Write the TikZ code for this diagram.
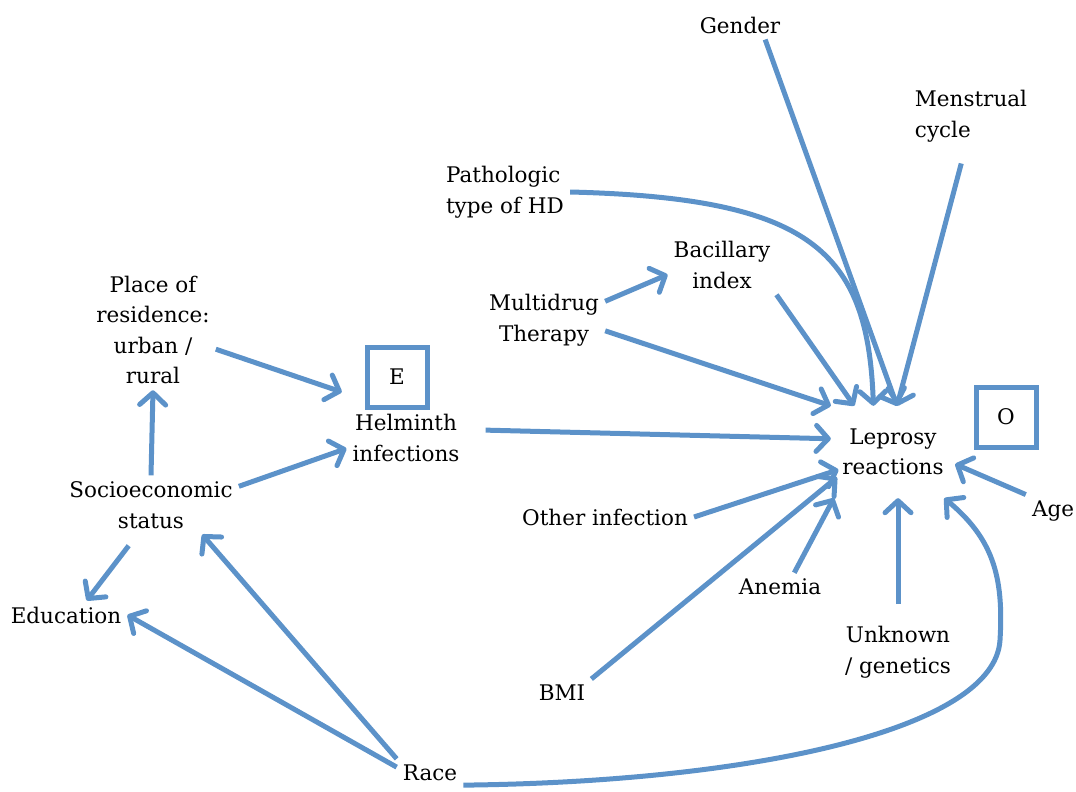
\documentclass[tikz,border=0pt]{standalone}
\usepackage{fontspec}
\setmainfont{DejaVu Serif}
\usepackage{xcolor}
\usepackage{tikz}
\usetikzlibrary{arrows.meta}
\definecolor{linkblue}{RGB}{92,146,201}

\begin{document}
\begin{tikzpicture}[x=1pt,y=1pt]
\tikzstyle{every node}+=[inner sep=6pt,font=\fontsize{21.5}{30.5}\selectfont]
\tikzstyle{lbl}=[align=center]
\tikzstyle{tagbox}=[draw=linkblue,line width=5pt,minimum size=60pt,inner sep=0pt]
\tikzstyle{link}=[draw=linkblue,line width=5pt,-{Straight Barb[length=12pt,width=26pt,round]}]
\useasboundingbox (0,0) rectangle (1076,-792);
\node [lbl] (gender) at (740,-25) {Gender};
\node [lbl,align=left] (menses) at (971,-116) {Menstrual\\cycle};
\node [lbl,align=left] (patho) at (505,-192) {Pathologic\\type of HD};
\node [lbl] (bacil) at (722,-265) {Bacillary\\index};
\node [lbl] (mdt) at (544,-320) {Multidrug\\Therapy};
\node [lbl] (place) at (153,-330) {Place of\\residence:\\urban /\\rural};
\node [tagbox] (ebox) at (397,-377) {E};
\node [lbl] (helm) at (406,-438) {Helminth\\infections};
\node [lbl,minimum width=124pt,minimum height=92pt] (lepro) at (893,-452) {Leprosy\\reactions};
\node [tagbox] (obox) at (1006,-417) {O};
\node [lbl] (age) at (1053,-511) {Age};
\node [lbl] (ses) at (151,-505) {Socioeconomic\\status};
\node [lbl] (educ) at (66,-615) {Education};
\node [lbl] (other) at (605,-517) {Other infection};
\node [lbl] (anemia) at (780,-587) {Anemia};
\node [lbl] (bmi) at (562,-693) {BMI};
\node [lbl] (unknown) at (898,-652) {Unknown\\/ genetics};
\node [lbl] (race) at (430,-773) {Race};
\draw [link] (gender.-30) -- (lepro.85);
\draw [link,shorten <=16pt] (menses.-100) -- (lepro.85);
\draw [link] (patho.east) .. controls (810,-198) and (868,-250) .. (lepro.113);
\draw [link] (bacil.south east) -- (lepro.130);
\draw [link] (mdt.17) -- (bacil.190);
\draw [link] (mdt.-10) -- (lepro.north west);
\draw [link,shorten >=24pt] (place.-17) -- (ebox.215);
\draw [link] (ses.north) -- (place.south);
\draw [link] (ses.12) -- (helm.190);
\draw [link,shorten <=20pt] (helm.8) -- (lepro.168);
\draw [link] (age.north west) -- (lepro.349);
\draw [link,shorten >=-8pt] (other.east) -- (lepro.198);
\draw [link,shorten >=-8pt] (bmi.north east) -- (lepro.206);
\draw [link] (anemia.45) -- (lepro.218);
\draw [link,shorten <=16pt] (unknown.north) -- (unknown.north |- lepro.south);
\draw [link,shorten <=14pt] (ses.-115) -- (educ.35);
\draw [link] (race.170) -- (educ.east);
\draw [link] (race.north west) -- (ses.-30);
\draw [link] (race.-20) .. controls (750,-782) and (995,-730) .. (1000,-640)
  .. controls (1004,-575) and (992,-538) .. (lepro.318);
\end{tikzpicture}
\end{document}
